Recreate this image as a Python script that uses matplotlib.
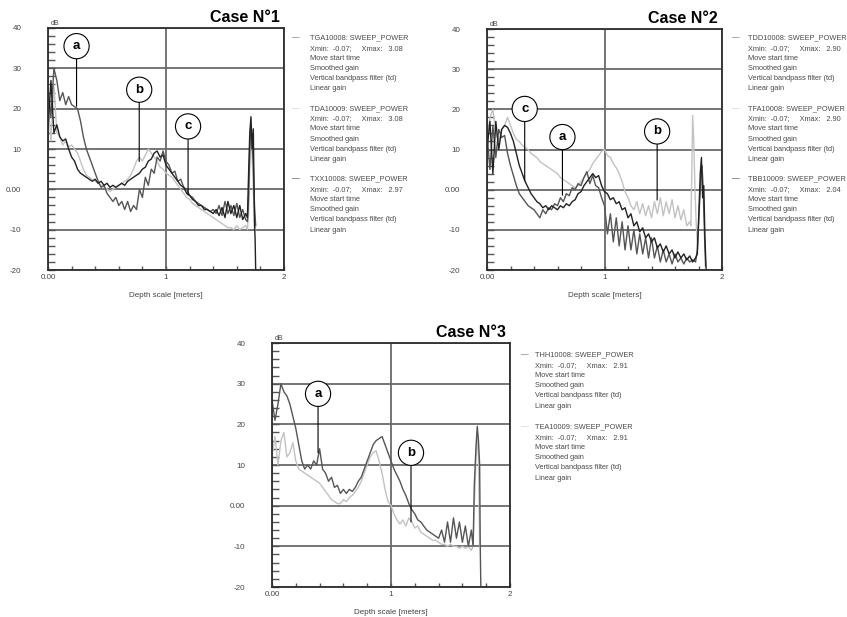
import numpy as np
import matplotlib
matplotlib.use('Agg')
import matplotlib.pyplot as plt
from matplotlib.transforms import offset_copy

plt.rcParams['font.family'] = ['Liberation Sans', 'DejaVu Sans']

########################################################################
########################## Data (read off) #############################

y_ticks = [-20, -10, 0, 10, 20, 30, 40]
y_tick_labels = ['-20', '-10', '0.00', '10', '20', '30', '40']
x_ticks = [0, 1, 2]
x_tick_labels = ['0.00', '1', '2']

# sampling depth [m] of the read-off points
depth_1 = np.round(np.arange(0, 1.68, 0.025), 3)    # 0 .. 1.675
depth_2 = np.round(np.arange(0, 1.78, 0.025), 3)    # 0 .. 1.775
depth_3 = np.round(np.arange(0, 1.68, 0.025), 3)    # 0 .. 1.675

# ---- Case 1 ----
tga10008 = [25, 18, 30, 27,  22, 24, 21, 23,  21, 20.5, 20, 17,  13, 10, 8, 6,
            4, 2, 0.5, 1,  -1, -2, -3, -2,  -4, -3, -5, -3,  -5.5, -4, -5, 0,
            -2, 3, 1, 5,  4, 8, 7, 9.5,  7, 6, 4, 4.5,  2, 2.5, 0.5, 0,
            -1.5, -2, -3, -3.5,  -4, -4.5, -5, -5.5,  -5, -6, -4, -6.5,
            -3, -6, -4, -6.5,  -3.5, -7, -5, -7.5]
tga10008_tail_x = [1.69, 1.70, 1.71, 1.72, 1.73, 1.74, 1.75, 1.76]
tga10008_tail = [-8, -2, 10, 16, 11, 6, -4, -9]

tda10009 = [22, 12, 26, 14,  13, 11, 12, 10.5,  11, 10, 9, 7,  5, 3.5, 3, 2.5,
            2, 1.5, 1, 0.5,  0, -0.5, 0, 0.5,  1, 1.5, 2, 2.5,  3.5, 5, 7, 8,
            7, 8.5, 10, 9,  8, 7, 5.5, 5,  4, 3.5, 3, 2,  1, 0, -1, -2,
            -2.5, -3.5, -4, -4.5,  -5, -5.5, -6, -6.5,  -7, -7.5, -8, -8.5,
            -9, -9.5, -9.5, -10,  -9, -10, -9.5, -9]
tda10009_tail_x = [1.69, 1.70, 1.71, 1.72, 1.73, 1.74, 1.75, 1.76]
tda10009_tail = [-10, -6, 6, 14, 8, 0, -8, -10]

txx10008 = [15, 27, 14, 16,  13, 12, 12.5, 10,  8, 7, 5, 4,  3.5, 3, 2.5, 2,
            2.5, 1.5, 2, 1,  1.5, 0.5, 1, 0.5,  1, 1.5, 1, 2,  2.5, 3, 3.5, 4,
            5, 5.5, 7, 7.5,  9, 9.5, 8, 8.5,  6, 5, 4, 3,  2, 1, 0.5, -1,
            -1.5, -2.5, -3, -4,  -4, -5, -5, -5.5,  -6, -5, -6.5, -4.5,
            -7, -3, -6, -4,  -7, -4, -7.5, -6]
txx10008_tail_x = [1.69, 1.70, 1.71, 1.72, 1.73, 1.74, 1.75, 1.755, 1.76]
txx10008_tail = [-7, 4, 14, 18, 10, 15, -9, -12, -20]

# ---- Case 2 ----
tdd10008 = [14, 5, 16, 8,  15, 13, 13.5, 9,  6, 3.5, 1, -1,  -2, -3, -4, -4.5,
            -5, -6, -7, -5,  -6, -4.5, -5, -3.5,  -4, -2, -3, -1,  -1.5, 0.5, 0, 1.5,
            1, 3, 4.5, 1.5,  3.5, 1, 0.5, -2,  -4, -11, -6, -13,  -7, -14, -8, -15,
            -9, -15, -10, -16,  -11, -16, -12, -17,  -12, -17, -14, -18,
            -15, -18, -16, -18.5,  -16, -18, -17, -18.5,  -17, -18, -17.5, -18]
tdd10008_tail_x = [1.79, 1.805, 1.82, 1.83, 1.84, 1.85, 1.86]
tdd10008_tail = [-15, -6, 3, 6, 0, -10, -19]

tfa10008 = [12, 18, 20, 14,  12, 15, 16, 18,  16, 14, 12.5, 12,  11, 10.5, 10, 9,
            8.5, 8, 7, 6.5,  6, 5.5, 5, 4.5,  4, 3, 2.5, 2,  1.5, 1, 0.5, 1,
            2, 3, 4, 5,  6.5, 7.5, 8.5, 9.5,  10, 8.5, 8, 6.5,  5.5, 4, 2, -0.5,
            -2, -4, -5, -3,  -6, -3.5, -6.5, -4,  -7, -3, -6, -2,
            -6.5, -3, -6, -2.5,  -7, -4, -7.5, -5,  -9, -8]
tfa10008_tail_x = [1.735, 1.745, 1.75, 1.76, 1.77, 1.78, 1.79]
tfa10008_tail = [-9, 8, 18.5, 12, 0, -8, -14]

tbb10009 = [10, 17, 4, 17,  10, 15, 16, 15.5,  14, 12, 9, 6,  4, 2, 0.5, -1,
            -2, -3, -3.5, -4.5,  -4, -5, -4, -4.5,  -5, -4, -4.5, -3.5,  -4, -3, -2.5, -1,
            -0.5, 1, 2, 3,  4, 3, 3.5, 1,  -0.5, -1, -2.5, -2,  -3.5, -3, -5, -4.5,
            -7, -6, -9, -8,  -10.5, -9.5, -12, -11,  -13, -12, -14.5, -13.5,
            -15.5, -14, -16, -15,  -17, -15.5, -17, -16,  -17.5, -16.5, -18, -17]
tbb10009_tail_x = [1.79, 1.80, 1.815, 1.825, 1.835, 1.845, 1.855, 1.865]
tbb10009_tail = [-16, -8, 4, 8, -2, 1, -12, -20]

# ---- Case 3 ----
thh10008 = [26, 21, 25, 30,  28, 27, 25, 22,  19, 15, 11, 9,  10, 9, 11, 10,
            14, 9, 8, 6,  7, 4.5, 5, 3,  4, 3, 4, 3.5,  4.5, 6, 7, 9,
            11, 13, 15, 16,  16.5, 17, 15, 13,  11, 9, 7.5, 6,  4, 2.5, 0.5, -1,
            -2, -3.5, -4, -5,  -6, -6.5, -7, -7.5,  -8, -6, -9, -4,
            -9, -3, -8, -4,  -9, -5, -10, -6]
thh10008_tail_x = [1.69, 1.70, 1.715, 1.725, 1.735, 1.745, 1.75, 1.755]
thh10008_tail = [-10, 5, 15, 19.5, 16, 10, -10, -20]

tea10009 = [12, 17, 10, 16,  18, 12, 13, 15.5,  11, 9, 8.5, 8,  7.5, 7, 6.5, 6,
            5.5, 4.5, 3.5, 2.5,  1.5, 1, 0.5, 0.5,  1.5, 1, 2, 2.5,  3.5, 4.5, 6, 8,
            10, 12, 13, 13.5,  11, 8, 4, 1,  0, -2, -3.5, -4.5,  -3.5, -5, -3, -4,
            -5.5, -5, -6.5, -7,  -7.5, -8, -8.5, -8.5,  -9, -9.5, -9.5, -10,
            -9.5, -10, -10, -10.5,  -10, -10.5, -10, -11]
tea10009_tail_x = [1.69, 1.70, 1.715, 1.725, 1.735, 1.745]
tea10009_tail = [-10, 0, 12, 17, 12, -10]

# legend blocks
legend_1 = [('TGA10008: SWEEP_POWER', '3.08'), ('TDA10009: SWEEP_POWER', '3.08'),
            ('TXX10008: SWEEP_POWER', '2.97')]
legend_2 = [('TDD10008: SWEEP_POWER', '2.90'), ('TFA10008: SWEEP_POWER', '2.90'),
            ('TBB10009: SWEEP_POWER', '2.04')]
legend_3 = [('THH10008: SWEEP_POWER', '2.91'), ('TEA10009: SWEEP_POWER', '2.91')]

# callouts: letter, curve point, circle centre
marks_1 = [('a', 0.242, 20.6, 0.242, 35.5), ('b', 0.773, 6.9, 0.773, 24.7),
           ('c', 1.187, -1.4, 1.187, 15.6)]
marks_2 = [('c', 0.321, 2.3, 0.321, 20.1), ('a', 0.642, -1.4, 0.642, 13.1),
           ('b', 1.448, -2.6, 1.448, 14.5)]
marks_3 = [('a', 0.387, 13.0, 0.387, 27.5), ('b', 1.168, -4.0, 1.168, 13.0)]

GRAY = '#555555'
LIGHT = '#c2c2c2'
DARK = '#222222'


########################################################################
############################ Functions #################################

def style_axes(ax):
    ax.set_xlim(0, 2)
    ax.set_ylim(-20, 40)
    ax.set_xticks(x_ticks)
    ax.set_xticklabels(x_tick_labels)
    ax.set_yticks(y_ticks)
    ax.set_yticklabels(y_tick_labels)
    ax.set_xticks(np.arange(0.2, 2.0, 0.2), minor=True)
    ax.set_yticks(np.arange(-18, 40, 2), minor=True)
    ax.tick_params(axis='y', which='both', direction='in', length=5, width=1,
                   color='#555555', pad=19, labelsize=5.8, labelcolor='#444444')
    ax.tick_params(axis='x', which='both', direction='in', length=3, width=1,
                   color='#555555', pad=3, labelsize=5.8, labelcolor='#444444')
    ax.grid(True, which='major', color='#6a6a6a', lw=1.3)
    for sp in ax.spines.values():
        sp.set_color('#2e2e2e')
        sp.set_linewidth(1.3)
    ax.set_xlabel('Depth scale [meters]', fontsize=5.8, color='#444444', labelpad=8)
    ax.text(0.01, 1.005, 'dB', transform=ax.transAxes, fontsize=5,
            color='#444444', va='bottom')


def add_title(ax, title):
    tr = offset_copy(ax.transAxes, fig=fig, x=-4, y=6, units='dots')
    ax.text(1, 1, title, transform=tr, ha='right', va='baseline',
            fontsize=11.5, fontweight='bold')


def add_legend(ax, entries, colors, first_dy, step, dx_mark, dx_text):
    for k, (name, xmax) in enumerate(entries):
        lines = [name, 'Xmin:  -0.07;     Xmax:   ' + xmax, 'Move start time',
                 'Smoothed gain', 'Vertical bandpass filter (td)', 'Linear gain']
        y0 = first_dy - k * step
        tr = offset_copy(ax.transAxes, fig=fig, x=dx_mark, y=y0, units='dots')
        ax.text(1, 1, '\u2014', transform=tr, fontsize=5.5, color=colors[k],
                va='center', ha='left')
        for j, s in enumerate(lines):
            tr = offset_copy(ax.transAxes, fig=fig, x=dx_text, y=y0 - 10.2 * j,
                             units='dots')
            ax.text(1, 1, s, transform=tr, fontsize=5.3, color='#4a4a4a',
                    va='center', ha='left')


def add_marks(ax, marks):
    for letter, xe, ye, xc, yc in marks:
        ax.annotate(letter, xy=(xe, ye), xytext=(xc, yc), ha='center', va='center',
                    fontsize=9.5, fontweight='bold', zorder=10,
                    bbox=dict(boxstyle='circle,pad=0.5', fc='white', ec='black', lw=0.8),
                    arrowprops=dict(arrowstyle='-', color='black', lw=0.8,
                                    shrinkA=0, shrinkB=0))


def curve(ax, x, y, tx, ty, color):
    ax.plot(np.concatenate([x, tx]), np.concatenate([y, ty]), color=color, lw=1.0)


########################################################################
############################## Plot ####################################

fig = plt.figure(figsize=(8.47, 6.17), dpi=100)
W, H = 847.0, 617.0

ax1 = fig.add_axes([48 / W, 1 - 270 / H, 236 / W, 242 / H])
ax2 = fig.add_axes([487 / W, 1 - 270 / H, 235 / W, 241 / H])
ax3 = fig.add_axes([272 / W, 1 - 587 / H, 238 / W, 244 / H])

### Case 1
curve(ax1, depth_1, tda10009, tda10009_tail_x, tda10009_tail, LIGHT)
curve(ax1, depth_1, tga10008, tga10008_tail_x, tga10008_tail, GRAY)
curve(ax1, depth_1, txx10008, txx10008_tail_x, txx10008_tail, DARK)
style_axes(ax1)
add_title(ax1, 'Case N°1')
add_legend(ax1, legend_1, [GRAY, LIGHT, DARK], -10, 70.5, 8, 26)
add_marks(ax1, marks_1)

### Case 2
curve(ax2, depth_2[:len(tfa10008)], tfa10008, tfa10008_tail_x, tfa10008_tail, LIGHT)
curve(ax2, depth_2, tdd10008, tdd10008_tail_x, tdd10008_tail, GRAY)
curve(ax2, depth_2, tbb10009, tbb10009_tail_x, tbb10009_tail, DARK)
style_axes(ax2)
add_title(ax2, 'Case N°2')
add_legend(ax2, legend_2, [GRAY, LIGHT, DARK], -9, 70.5, 10, 26)
add_marks(ax2, marks_2)

### Case 3
curve(ax3, depth_3, tea10009, tea10009_tail_x, tea10009_tail, LIGHT)
curve(ax3, depth_3, thh10008, thh10008_tail_x, thh10008_tail, GRAY)
style_axes(ax3)
add_title(ax3, 'Case N°3')
add_legend(ax3, legend_3, [GRAY, LIGHT], -12, 72, 11, 25)
add_marks(ax3, marks_3)

fig.savefig('out.png', dpi=100)
